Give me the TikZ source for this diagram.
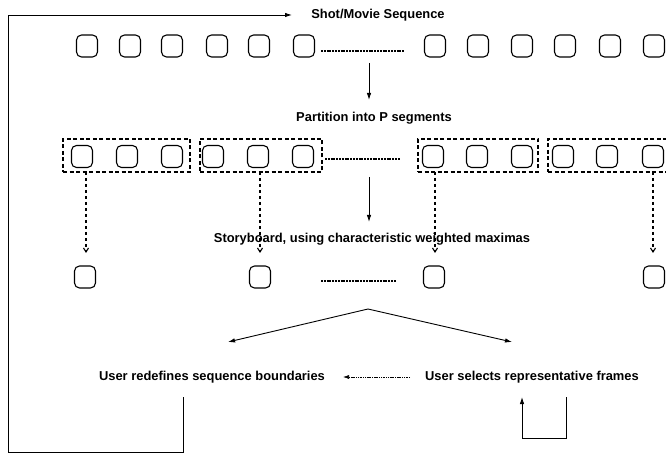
\documentclass[tikz,border=0pt]{standalone}
\usepackage{fontspec}
\setmainfont{Liberation Sans}
\usetikzlibrary{arrows.meta}
\begin{document}
\begin{tikzpicture}[x=1pt,y=-1pt,
  frame/.style={draw, line width=1.1pt, rounded corners=5pt,
    minimum width=21pt, minimum height=22pt, inner sep=0pt},
  segbox/.style={draw, line width=1.4pt, dash pattern=on 4pt off 2.5pt,
    inner sep=0pt, minimum height=33pt},
  gap/.style={line width=1.6pt, dash pattern=on 2pt off 0.8pt},
  lbl/.style={font=\fontsize{12.9}{14}\selectfont\bfseries, inner sep=0pt},
  flow/.style={line width=0.9pt, -{Latex[length=7pt,width=4.5pt]}},
  pick/.style={line width=1.1pt, dash pattern=on 3pt off 3pt,
    -{Straight Barb[length=4pt,width=5pt]}},
  thin/.style={line width=0.6pt, dash pattern=on 1.5pt off 0.8pt,
    -{Latex[length=6pt,width=4pt]}},
]
\useasboundingbox (0,0) rectangle (666,454);
\clip (0,0) rectangle (666,454);

% ---- full sequence of shots ----
\node[lbl] (title) at (378,15) {Shot/Movie Sequence};
\foreach \i/\x in {1/87,2/130,3/172,4/217,5/259,6/304,
                   7/435,8/478,9/522,10/565,11/610,12/654}
  \node[frame] (a\i) at (\x,46) {};
\coordinate (g1s) at (321,51);
\coordinate (g1e) at (404,51);
\draw[gap] (g1s) -- (g1e);

% ---- partition into segments ----
\coordinate (p1s) at (369,63);
\coordinate (p1e) at (369,100);
\draw[flow] (p1s) -- (p1e);
\node[lbl] (part) at (374,118) {Partition into P segments};

\foreach \i/\x in {1/82,2/127,3/172,4/213,5/258,6/303,
                   7/433,8/477,9/522,10/563,11/607,12/653}
  \node[frame] (b\i) at (\x,156.5) {};
\node[segbox, minimum width=127pt] (s1) at (126.5,155.5) {};
\node[segbox, minimum width=122pt] (s2) at (261,155.5) {};
\node[segbox, minimum width=120pt] (s3) at (478,155.5) {};
\node[segbox, minimum width=121pt] (s4) at (608.5,155.5) {};
\coordinate (g2s) at (325,159);
\coordinate (g2e) at (400,159);
\draw[gap] (g2s) -- (g2e);

% ---- storyboard ----
\coordinate (p2s) at (369,177);
\coordinate (p2e) at (369,222);
\draw[flow] (p2s) -- (p2e);
\node[lbl] (story) at (372,239) {Storyboard, using characteristic weighted maximas};

\foreach \i/\x in {1/85,2/260,3/434,4/654}
  \node[frame] (c\i) at (\x,277) {};
\coordinate (g3s) at (321,281);
\coordinate (g3e) at (396,281);
\draw[gap] (g3s) -- (g3e);

% one representative per segment
\foreach \s/\x in {1/86,2/260,3/435,4/653} {
  \coordinate (k\s s) at (\x,172);
  \coordinate (k\s e) at (\x,253);
  \draw[pick] (k\s s) -- (k\s e);
}

% ---- user interaction ----
\coordinate (apex) at (368,309);
\coordinate (tipL) at (228,342);
\coordinate (tipR) at (512,342);
\draw[flow] (apex) -- (tipL);
\draw[flow] (apex) -- (tipR);

\node[lbl] (redef) at (212,377) {User redefines sequence boundaries};
\node[lbl] (sel) at (532,377) {User selects representative frames};
\coordinate (hs) at (410,377);
\coordinate (he) at (343,377);
\draw[thin] (hs) -- (he);

% feedback to the shot sequence
\coordinate (fb0) at (183,397);
\coordinate (fb1) at (183,452);
\coordinate (fb2) at (8,452);
\coordinate (fb3) at (8,15);
\coordinate (fb4) at (292,15);
\draw[flow] (fb0) -- (fb1) -- (fb2) -- (fb3) -- (fb4);

% repeated selection
\coordinate (rs0) at (566,397);
\coordinate (rs1) at (566,438);
\coordinate (rs2) at (522,438);
\coordinate (rs3) at (522,397);
\draw[flow] (rs0) -- (rs1) -- (rs2) -- (rs3);
\end{tikzpicture}
\end{document}
